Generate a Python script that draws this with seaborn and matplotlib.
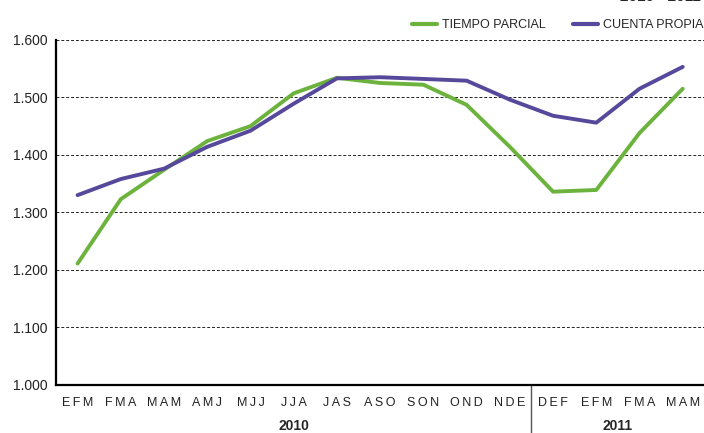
import numpy as np
import pandas as pd
import seaborn as sns
import matplotlib.pyplot as plt
from matplotlib.lines import Line2D

# Datos (miles)
periodos = ['EFM', 'FMA', 'MAM', 'AMJ', 'MJJ', 'JJA', 'JAS', 'ASO', 'SON',
            'OND', 'NDE', 'DEF', 'EFM', 'FMA', 'MAM']
tiempo_parcial = [1211, 1323, 1374, 1424, 1450, 1507, 1534, 1525, 1522,
                  1487, 1414, 1336, 1339, 1438, 1515]
cuenta_propia = [1330, 1358, 1376, 1414, 1442, 1489, 1533, 1535, 1532,
                 1529, 1496, 1468, 1456, 1515, 1553]
anios = ['2010', '2011']
n_2010 = 11

verde = '#6cb33e'
morado = '#56499b'

pos = np.arange(len(periodos))
df = pd.DataFrame({
    'pos': np.concatenate([pos, pos]),
    'valor': tiempo_parcial + cuenta_propia,
    'serie': ['TIEMPO PARCIAL'] * len(pos) + ['CUENTA PROPIA'] * len(pos),
})

sns.set_style('white')
plt.rcParams['font.family'] = ['Liberation Sans', 'DejaVu Sans']

fig = plt.figure(figsize=(7.04, 4.33), dpi=100)
ax = fig.add_axes([0.0795, 0.111, 0.921, 0.797])

sns.lineplot(data=df, x='pos', y='valor', hue='serie',
             palette={'TIEMPO PARCIAL': verde, 'CUENTA PROPIA': morado},
             linewidth=2.8, ax=ax, legend=False, zorder=3)

ax.set_xlim(-0.5, len(periodos) - 0.5)
ax.set_ylim(1000, 1600)
ax.set_yticks(np.arange(1000, 1601, 100))
ax.set_yticklabels([f'{v/1000:.3f}' for v in range(1000, 1601, 100)],
                   fontsize=10, color='#222222')
ax.set_xticks(pos)
ax.set_xticklabels(['\u2009'.join(p) for p in periodos], fontsize=9, color='#222222')
ax.set_xticks(np.arange(-0.5, len(periodos), 1), minor=True)
ax.tick_params(axis='x', which='major', length=0, pad=9)
ax.tick_params(axis='x', which='minor', length=3, direction='out', color='#444444')
ax.tick_params(axis='y', length=4, direction='out', color='#777777', pad=2)
ax.set_xlabel('')
ax.set_ylabel('')

ax.grid(axis='y', color='#222222', linestyle=(0, (3, 2)), linewidth=0.7)
ax.set_axisbelow(True)
for s in ['top', 'right']:
    ax.spines[s].set_visible(False)
ax.spines['left'].set_linewidth(1.6)
ax.spines['left'].set_color('black')
ax.spines['bottom'].set_linewidth(1.6)
ax.spines['bottom'].set_color('black')

# separador de años y etiquetas
trans = ax.get_xaxis_transform()
ax.plot([n_2010 - 0.5, n_2010 - 0.5], [0, -0.15], transform=trans,
        color='#555555', linewidth=1.0, clip_on=False)
ax.text((n_2010 - 1) / 2, -0.12, anios[0], transform=trans, ha='center', va='center',
        fontsize=10, fontweight='bold')
ax.text((n_2010 + len(periodos) - 1) / 2, -0.12, anios[1], transform=trans, ha='center',
        va='center', fontsize=10, fontweight='bold')

handles = [Line2D([], [], color=verde, linewidth=3),
           Line2D([], [], color=morado, linewidth=3)]
ax.legend(handles, ['TIEMPO PARCIAL', 'CUENTA PROPIA'], ncol=2, frameon=False,
          loc='lower right', bbox_to_anchor=(1.012, 1.0), fontsize=9,
          handlelength=2.0, columnspacing=2.2, handletextpad=0.4, borderpad=0.2)

# título (cortado en el borde superior, como en el original)
fig.text(0.995, 1.006, '2010 - 2011', ha='right', va='center', fontsize=11,
         fontweight='bold')

fig.savefig('out.png', dpi=100)
